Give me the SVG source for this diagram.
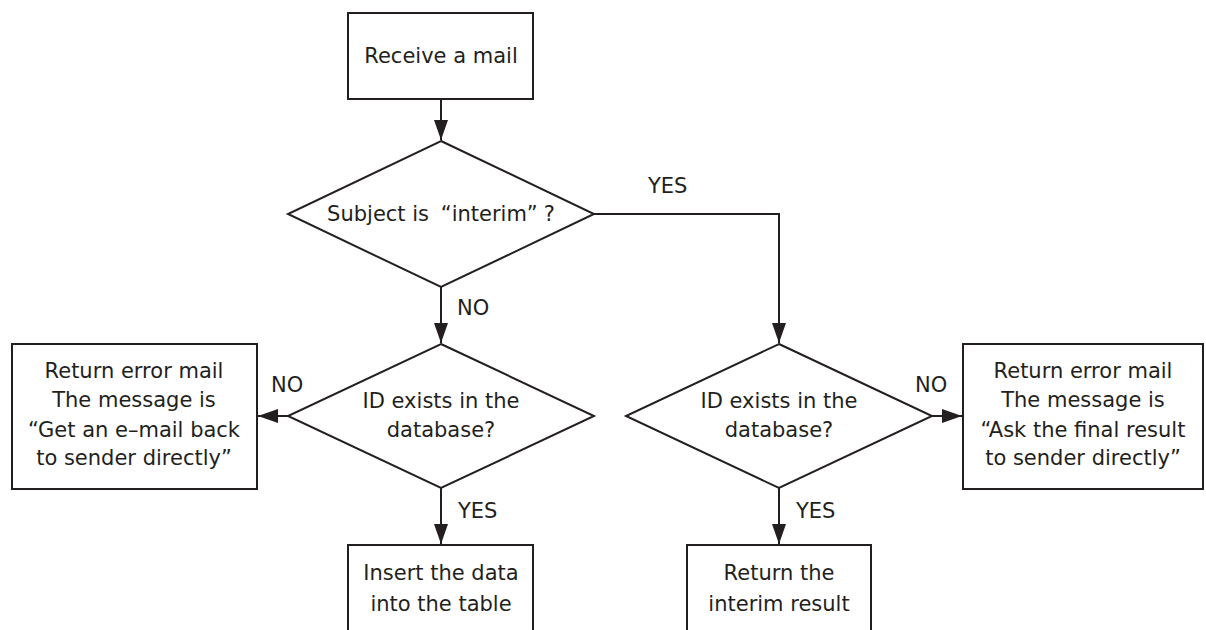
<svg xmlns="http://www.w3.org/2000/svg" width="1206" height="630" viewBox="0 0 1206 630">
  <style>
    .shape { fill: #ffffff; stroke: #231f20; stroke-width: 2; }
    .conn { fill: none; stroke: #231f20; stroke-width: 2; }
    text { font-family: "DejaVu Sans", "Noto Sans CJK JP", sans-serif; font-size: 21px; fill: #231f20; text-anchor: middle; }
    .lbl { text-anchor: start; }
  </style>
  <defs>
    <marker id="arrow" markerUnits="userSpaceOnUse" markerWidth="22" markerHeight="16" refX="20" refY="7" orient="auto">
      <path d="M0,0 L20,7 L0,14 Z" fill="#231f20"/>
    </marker>
  </defs>

  <rect width="1206" height="630" fill="#ffffff"/>

  <g id="connectors">
    <path class="conn" d="M441,99 V140" marker-end="url(#arrow)"/>
    <path class="conn" d="M441,287 V343" marker-end="url(#arrow)"/>
    <path class="conn" d="M594,214 H779 V343" marker-end="url(#arrow)"/>
    <path class="conn" d="M288,416 H258" marker-end="url(#arrow)"/>
    <path class="conn" d="M932,416 H962" marker-end="url(#arrow)"/>
    <path class="conn" d="M441,488 V544" marker-end="url(#arrow)"/>
    <path class="conn" d="M779,488 V544" marker-end="url(#arrow)"/>
    <text class="lbl" x="648" y="193">YES</text>
    <text class="lbl" x="457" y="315">NO</text>
    <text class="lbl" x="271" y="392">NO</text>
    <text class="lbl" x="915" y="392">NO</text>
    <text class="lbl" x="458" y="518">YES</text>
    <text class="lbl" x="796" y="518">YES</text>
  </g>

  <g id="receive">
    <rect class="shape" x="348" y="13" width="185" height="86"/>
    <text x="441" y="63">Receive a mail</text>
  </g>

  <g id="subject-check">
    <polygon class="shape" points="441,141 594,214 441,287 288,214"/>
    <text x="441" y="221">Subject is <tspan dx="5">“</tspan>interim”<tspan dx="6">?</tspan></text>
  </g>

  <g id="id-check-left">
    <polygon class="shape" points="441,344 594,416 441,488 288,416"/>
    <text x="441" y="408">ID exists in the</text>
    <text x="441" y="437">database?</text>
  </g>

  <g id="id-check-right">
    <polygon class="shape" points="779,344 932,416 779,488 626,416"/>
    <text x="779" y="408">ID exists in the</text>
    <text x="779" y="437">database?</text>
  </g>

  <g id="error-left">
    <rect class="shape" x="12" y="344" width="245" height="145"/>
    <text x="134" y="378">Return error mail</text>
    <text x="134" y="407">The message is</text>
    <text x="134" y="437">“Get an e–mail back</text>
    <text x="134" y="465">to sender directly”</text>
  </g>

  <g id="error-right">
    <rect class="shape" x="963" y="344" width="240" height="145"/>
    <text x="1083" y="378">Return error mail</text>
    <text x="1083" y="407">The message is</text>
    <text x="1083" y="437">“Ask the final result</text>
    <text x="1083" y="465">to sender directly”</text>
  </g>

  <g id="insert">
    <rect class="shape" x="348" y="545" width="185" height="110"/>
    <text x="441" y="580">Insert the data</text>
    <text x="441" y="611">into the table</text>
  </g>

  <g id="return-interim">
    <rect class="shape" x="687" y="545" width="184" height="110"/>
    <text x="779" y="580">Return the</text>
    <text x="779" y="611">interim result</text>
  </g>
</svg>
